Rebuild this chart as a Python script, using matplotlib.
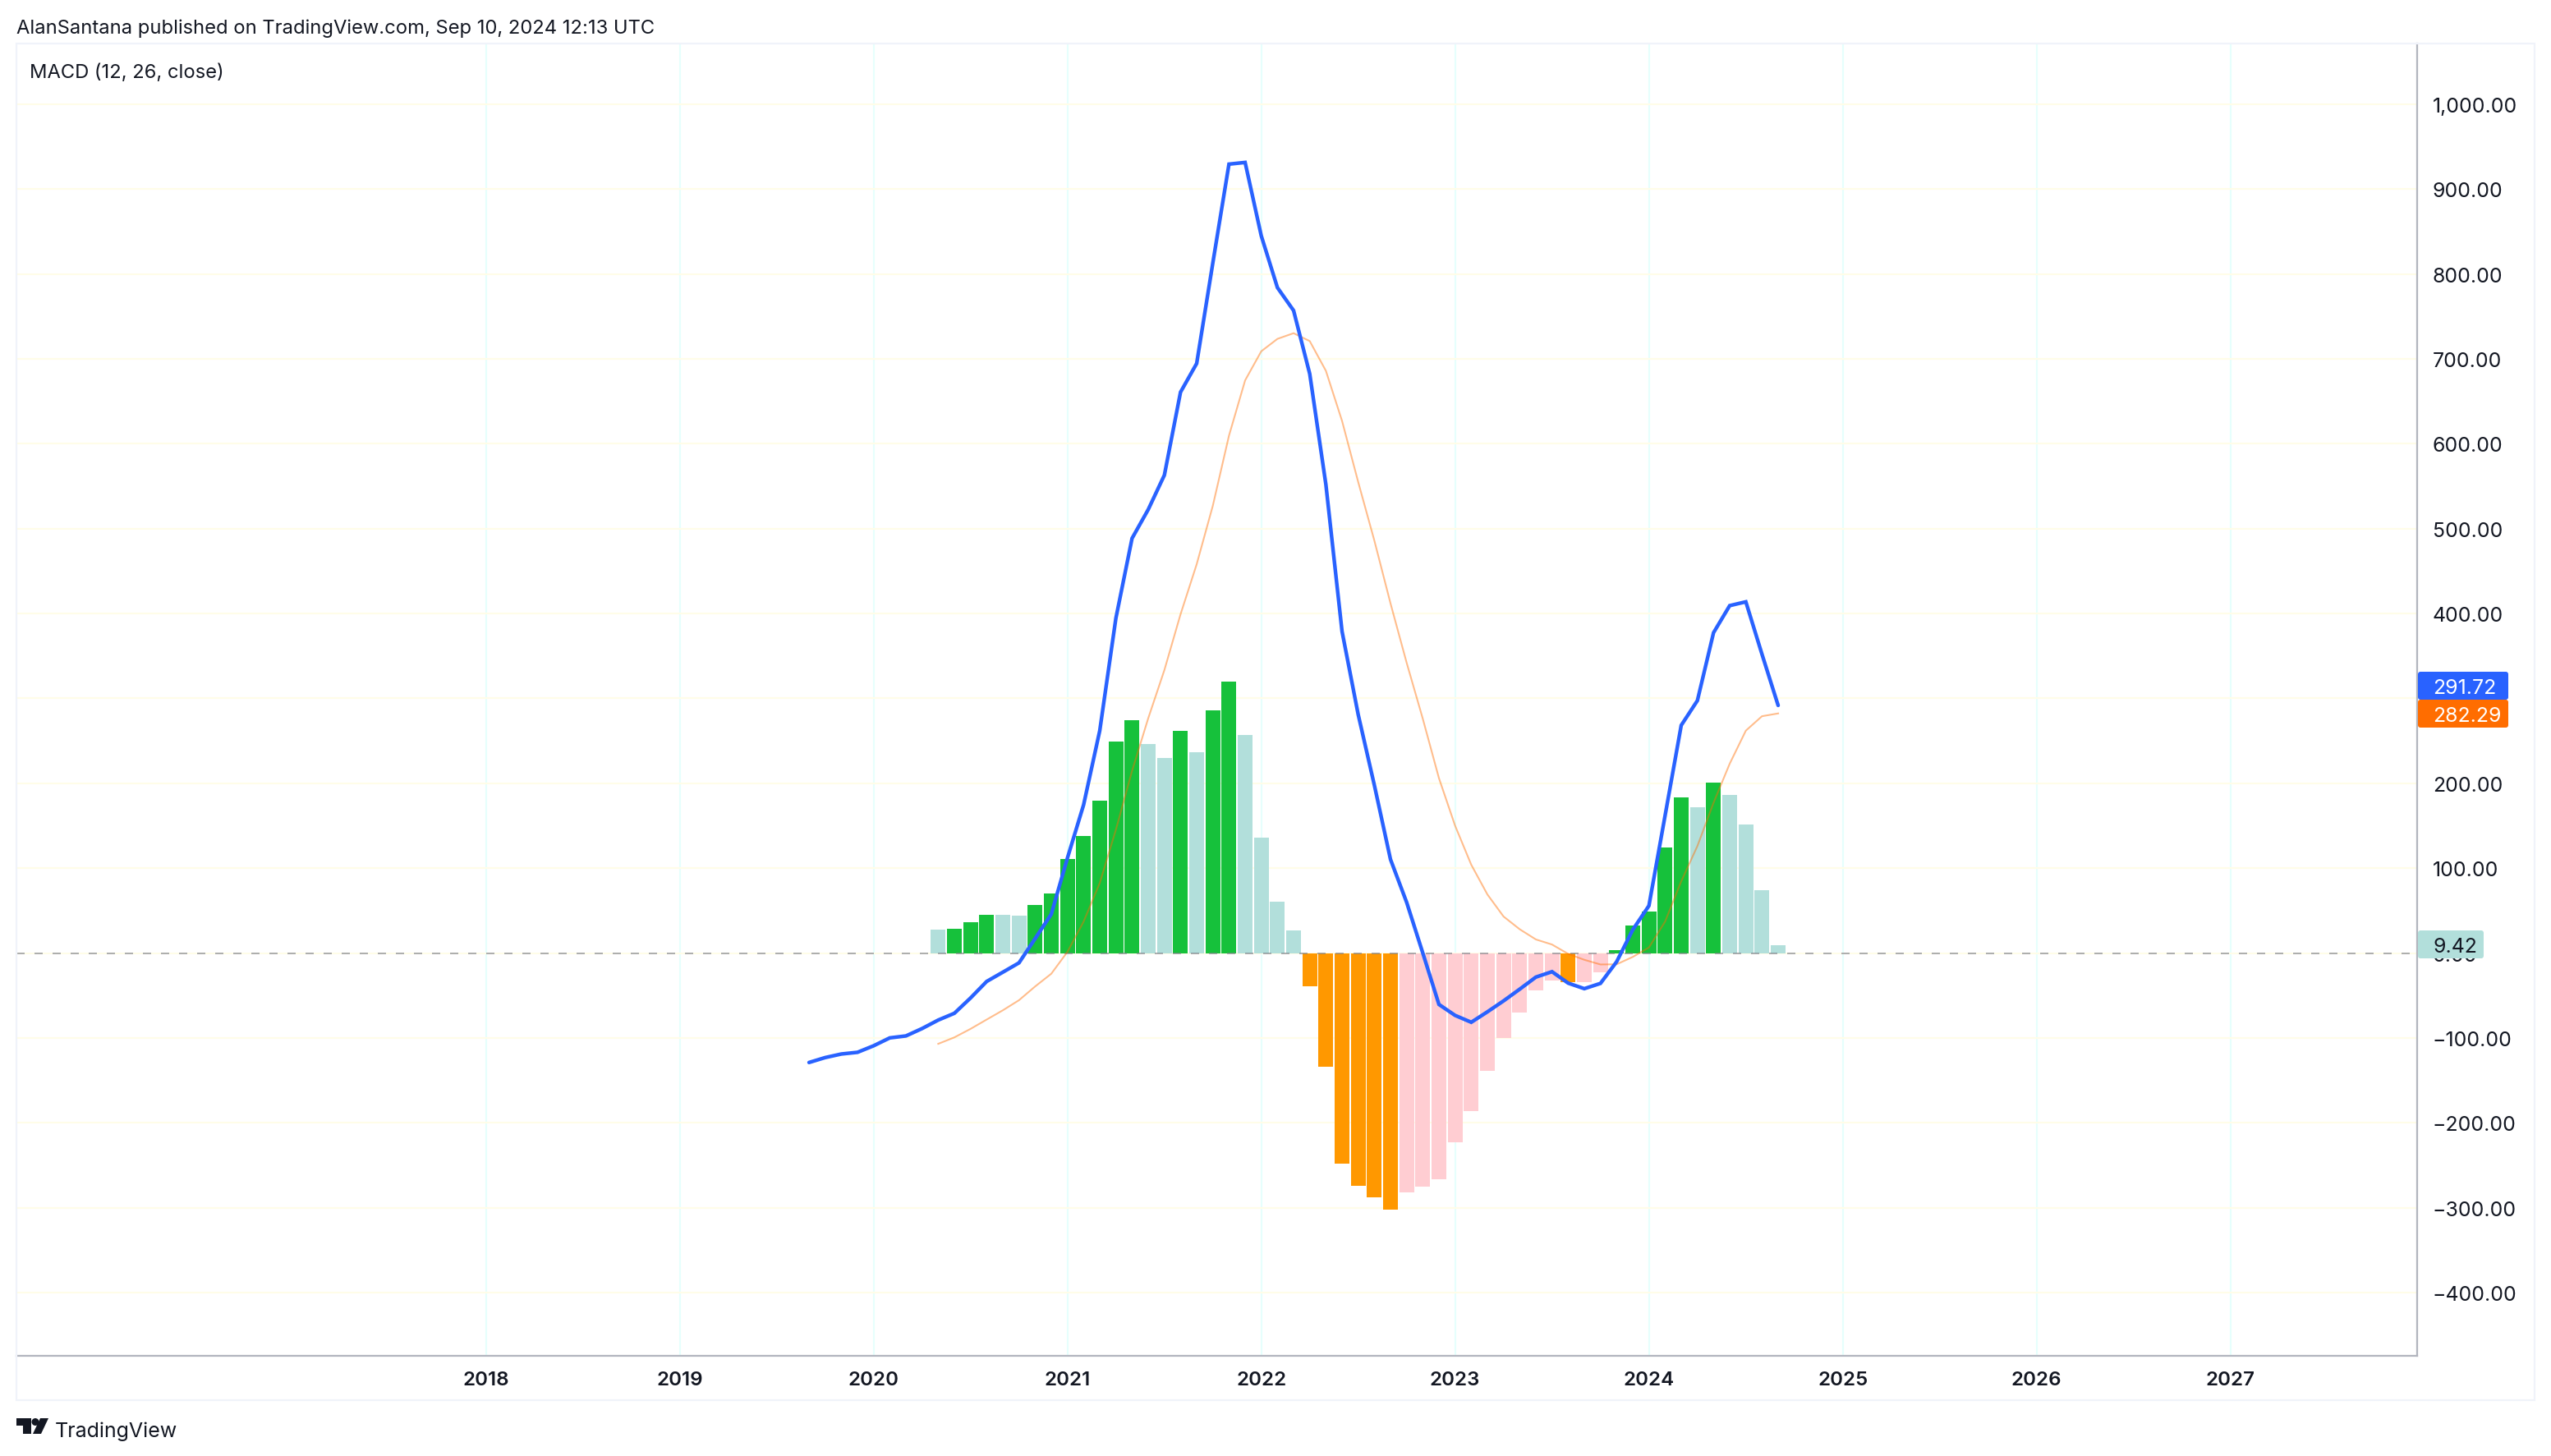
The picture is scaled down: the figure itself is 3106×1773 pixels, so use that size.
import numpy as np
import matplotlib
matplotlib.use("Agg")
import matplotlib.pyplot as plt
from matplotlib.patches import FancyBboxPatch, Rectangle, Polygon, Circle
from matplotlib.transforms import Affine2D

plt.rcParams['font.family'] = ['Inter', 'DejaVu Sans']

# ---- data -------------------------------------------------------------
years = [2018, 2019, 2020, 2021, 2022, 2023, 2024, 2025, 2026, 2027]
y_ticks = [-400, -300, -200, -100, 0, 100, 200, 300, 400, 500, 600, 700, 800, 900, 1000]

macd_start = (2019, 9)
macd = [-129, -123.2, -119, -117,
        -109.3, -100, -97.7, -89, -79, -71, -53, -33.5, -22.6, -11.6, 17, 45.8,
        112, 174.6, 262, 394.6, 488.6, 522.5, 563, 660.8, 694.6, 813, 929.5, 931.5,
        845, 784, 757, 682.4, 552, 379, 281, 197.8, 110.3, 59.7, 0, -60.6,
        -73.5, -81.6, -69.3, -56.4, -42.6, -28.4, -22, -35.5, -42, -35.8, -10.3, 27.4,
        55.7, 161.9, 268.3, 297.4, 377.4, 409.3, 413.8, 352, 291.72]

hist_start = (2020, 5)
signal = [-107, -99.4, -89.4, -78.4, -67.5, -55.6, -39.4, -24.4,
          1.4, 37, 82.5, 145.3, 214.6, 276.5, 333.3, 399, 458, 527, 609.5, 674.7,
          709, 723.6, 730.3, 721, 686, 627, 555, 486, 412, 342, 276, 206,
          150, 104, 69, 43, 28, 16, 10, -1, -8, -13.5, -13.3, -4.6,
          6.5, 37, 84.5, 126, 177, 223, 262, 279, 282.29]
hist = [27.5, 28.4, 36.4, 44.9, 44.9, 44, 56.4, 70.2,
        110.6, 137.7, 179.5, 249.3, 274, 246, 229.7, 261.7, 236.8, 286, 320, 256.8,
        136, 60.4, 26.7, -39, -134, -248, -274, -288, -302, -282.5, -275.7, -267,
        -223.5, -185.8, -138.4, -99.7, -70.6, -44.5, -32, -34.5, -33.9, -22.3, 3, 32,
        49.3, 124.8, 183.8, 171.3, 200.3, 185.8, 151.9, 74.5, 9.42]
hist_kind = list("LGGGLLGG" "GGGGGLLGLGGL" "LLLOOOOOOPPP" "PPPPPPPOPPGG" "GGGLGLLLL")

kind_colors = {"G": "#16C13B", "L": "#B2DFDB", "O": "#FF9800", "P": "#FFCDD2"}

TEXT = "#131722"
AXIS = "#B2B5BE"
BORDER = "#F0F3FA"
W, H = 3106, 1774


def month_index(ym):
    return (ym[0] - years[0]) * 12 + ym[1] - 1


# ---- figure -----------------------------------------------------------
fig = plt.figure(figsize=(W / 100, H / 100), dpi=100, facecolor="white")
px = Affine2D().scale(1 / W, -1 / H).translate(0, 1) + fig.transFigure

fig.add_artist(Rectangle((20, 54), 3066, 1652, transform=px, fill=False,
                         edgecolor=BORDER, linewidth=1.6))

ax = fig.add_axes([20 / W, 1 - 1652 / H, (2943 - 20) / W, (1652 - 54) / H])
ax.set_xlim(-29.07, 119.56)
ax.set_ylim(-474.6, 1071.6)
for s in ("top", "left"):
    ax.spines[s].set_visible(False)
for s in ("bottom", "right"):
    ax.spines[s].set_color(AXIS)
    ax.spines[s].set_linewidth(1.6)

x_ticks = [month_index((y, 1)) for y in years]
ax.set_xticks(x_ticks)
ax.set_xticklabels([str(y) for y in years], fontsize=17.3, fontweight="semibold", color=TEXT)
ax.yaxis.tick_right()
ax.set_yticks(y_ticks)
ax.set_yticklabels([f"{v:,.2f}".replace("-", "\u2212") for v in y_ticks], fontsize=17.9, color=TEXT)
ax.tick_params(axis="x", length=0, pad=13)
ax.tick_params(axis="y", length=0, pad=13.5)

ax.set_axisbelow(True)
ax.xaxis.grid(True, color="#E6FFFD", linewidth=1.5)
ax.yaxis.grid(True, color="#FFFDE8", linewidth=1.5)

x_hist = np.arange(len(hist)) + month_index(hist_start)
x_macd = np.arange(len(macd)) + month_index(macd_start)
ax.bar(x_hist, hist, width=0.91, color=[kind_colors[k] for k in hist_kind], zorder=2, linewidth=0)
ax.axhline(0, color="#787B86", alpha=0.6, linewidth=1.44, dashes=(5, 6), dash_capstyle="butt", zorder=3)
ax.plot(x_hist, signal, color="#FF6D00", alpha=0.45, linewidth=1.5, solid_joinstyle="round", zorder=4)
ax.plot(x_macd, macd, color="#2962FF", linewidth=3.2, solid_joinstyle="miter",
        solid_capstyle="round", zorder=5)


# ---- price badges -----------------------------------------------------
def badge(x0, x1, y0, y1, color, txt, tcolor):
    fig.add_artist(FancyBboxPatch((x0, y0), x1 - x0, y1 - y0, boxstyle="round,pad=0,rounding_size=3",
                                  transform=px, facecolor=color, edgecolor="none", zorder=6))
    fig.text(2962 / W, 1 - ((y0 + y1) / 2) / H, txt, color=tcolor, fontsize=17.9,
             ha="left", va="center_baseline", zorder=7)


badge(2944, 3054, 819, 853, "#2962FF", f"{macd[-1]:.2f}", "white")
badge(2944, 3054, 853, 887, "#FF6D00", f"{signal[-1]:.2f}", "white")
badge(2944, 3024, 1134, 1168, kind_colors["L"], f"{hist[-1]:.2f}", TEXT)

# ---- header / footer --------------------------------------------------
fig.text(20 / W, 1 - 32 / H, "AlanSantana published on TradingView.com, Sep 10, 2024 12:13 UTC",
         color=TEXT, fontsize=17.1, ha="left", va="center_baseline")
fig.text(36 / W, 1 - 86 / H, "MACD (12, 26, close)", color=TEXT, fontsize=17.1,
         ha="left", va="center_baseline")
fig.text(67 / W, 1 - 1741 / H, "TradingView", color=TEXT, fontsize=18, ha="left", va="center_baseline")

fig.add_artist(Polygon([(20, 1728), (37.5, 1728), (37.5, 1747), (28, 1747), (28, 1737), (20, 1737)],
                       closed=True, transform=px, facecolor=TEXT, edgecolor="none"))
fig.add_artist(Circle((43, 1732.5), 4.5, transform=px, facecolor=TEXT, edgecolor="none"))
fig.add_artist(Polygon([(49, 1728), (59, 1728), (50, 1747), (40, 1747)],
                       closed=True, transform=px, facecolor=TEXT, edgecolor="none"))

fig.savefig("out.png", dpi=100, facecolor="white")
